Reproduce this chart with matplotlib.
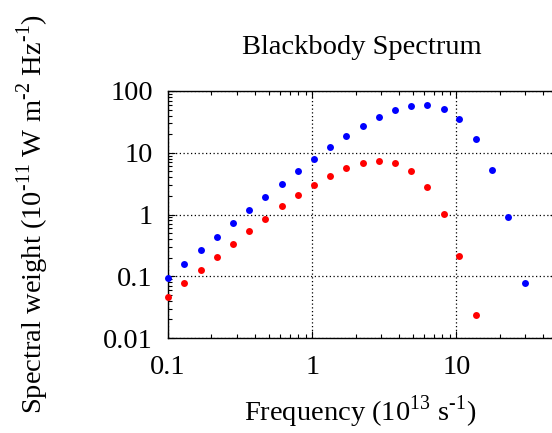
import numpy as np
import matplotlib
matplotlib.use('Agg')
import matplotlib.pyplot as plt
from matplotlib.ticker import FixedLocator, LogLocator, NullFormatter, FixedFormatter

plt.rcParams['font.family'] = ['Liberation Serif', 'DejaVu Serif']
plt.rcParams['mathtext.fontset'] = 'custom'
plt.rcParams['mathtext.rm'] = 'Liberation Serif'

# --- data ---
freq_hot = [0.1, 0.129, 0.169, 0.218, 0.282, 0.365, 0.473, 0.614, 0.797, 1.03,
            1.33, 1.73, 2.24, 2.91, 3.76, 4.88, 6.30, 8.17, 10.5, 13.7,
            17.7, 22.9, 29.8]
weight_hot = [0.0946, 0.157, 0.264, 0.438, 0.717, 1.17, 1.92, 3.15, 5.04, 7.96,
              12.3, 18.7, 27.0, 37.7, 48.8, 57.4, 59.6, 51.3, 34.6, 16.9,
              5.23, 0.916, 0.0767]

freq_cool = freq_hot[:20]
weight_cool = [0.0462, 0.0767, 0.126, 0.206, 0.334, 0.540, 0.851, 1.35, 2.05, 3.00,
               4.24, 5.63, 6.95, 7.48, 6.95, 5.04, 2.79, 1.01, 0.216, 0.0234]

x_ticks = [0.1, 1, 10]
x_ticklabels = ['0.1', '1', '10']
y_ticks = [0.01, 0.1, 1, 10, 100]
y_ticklabels = ['0.01', '0.1', '1', '10', '100']

W, H = 552, 433
fig = plt.figure(figsize=(W / 100, H / 100), dpi=100)
# plot box: left 168px, right ~557px (cut by the image edge), top 91px, bottom 338px
ax = fig.add_axes([168 / W, (H - 338) / H, (557 - 168) / W, (338 - 91) / H])

ax.plot(freq_hot, weight_hot, 'o', color='#0000ff', ms=5.0, mew=0, clip_on=False, zorder=3)
ax.plot(freq_cool, weight_cool, 'o', color='#ff0000', ms=5.0, mew=0, clip_on=False, zorder=3)

ax.set_xscale('log')
ax.set_yscale('log')
ax.set_xlim(0.1, 50)
ax.set_ylim(0.01, 100)

ax.xaxis.set_major_locator(FixedLocator(x_ticks))
ax.xaxis.set_major_formatter(FixedFormatter(x_ticklabels))
ax.yaxis.set_major_locator(FixedLocator(y_ticks))
ax.yaxis.set_major_formatter(FixedFormatter(y_ticklabels))
ax.xaxis.set_minor_locator(LogLocator(base=10, subs=np.arange(2, 10)))
ax.yaxis.set_minor_locator(LogLocator(base=10, subs=np.arange(2, 10)))
ax.xaxis.set_minor_formatter(NullFormatter())
ax.yaxis.set_minor_formatter(NullFormatter())

ax.tick_params(which='both', direction='in', top=True, right=True, labelsize=20.5, width=0.8)
ax.tick_params(which='major', length=5)
ax.tick_params(which='minor', length=3)
ax.tick_params(axis='y', pad=11)
ax.tick_params(axis='x', pad=12)

ax.grid(True, which='major', color='black', linestyle=(0, (1, 2)), linewidth=0.9)
for s in ax.spines.values():
    s.set_linewidth(1.0)
    s.set_color('black')

fig.text(362 / W, 1 - 47 / H, 'Blackbody Spectrum', ha='center', va='center', fontsize=20.5)
fig.text(360 / W, 1 - 412 / H, r'Frequency (10$^{\text{13}}$ s$^{\text{-1}}$)',
         ha='center', va='center', fontsize=20.5)
fig.text(33 / W, 1 - 214 / H,
         r'Spectral weight (10$^{\text{-11}}$ W m$^{\text{-2}}$ Hz$^{\text{-1}}$)',
         ha='center', va='center', rotation=90, fontsize=20.5)

fig.savefig('out.png', dpi=100)
